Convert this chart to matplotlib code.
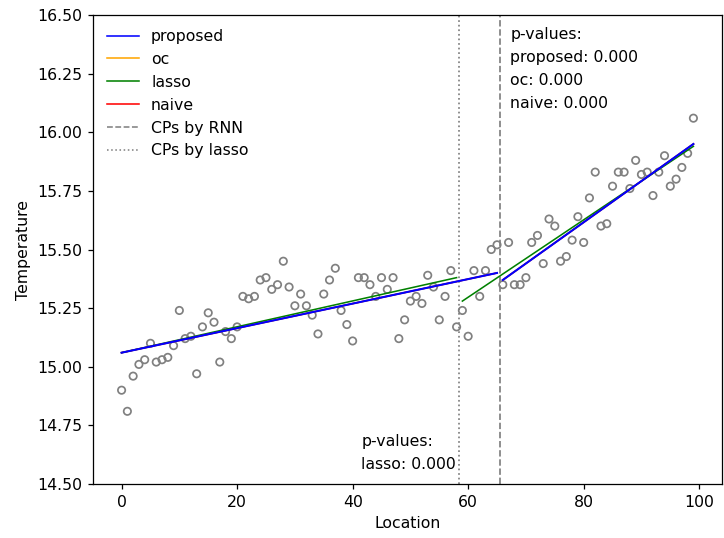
import matplotlib.pyplot as plt
from matplotlib.lines import Line2D
import numpy as np

# Observed temperatures by location
location = np.arange(0, 100)
temperature = [
    14.90, 14.81, 14.96, 15.01, 15.03, 15.10, 15.02, 15.03, 15.04, 15.09,
    15.24, 15.12, 15.13, 14.97, 15.17, 15.23, 15.19, 15.02, 15.15, 15.12,
    15.17, 15.30, 15.29, 15.30, 15.37, 15.38, 15.33, 15.35, 15.45, 15.34,
    15.26, 15.31, 15.26, 15.22, 15.14, 15.31, 15.37, 15.42, 15.24, 15.18,
    15.11, 15.38, 15.38, 15.35, 15.30, 15.38, 15.33, 15.38, 15.12, 15.20,
    15.28, 15.30, 15.27, 15.39, 15.34, 15.20, 15.30, 15.41, 15.17, 15.24,
    15.13, 15.41, 15.30, 15.41, 15.50, 15.52, 15.35, 15.53, 15.35, 15.35,
    15.38, 15.53, 15.56, 15.44, 15.63, 15.60, 15.45, 15.47, 15.54, 15.64,
    15.53, 15.72, 15.83, 15.60, 15.61, 15.77, 15.83, 15.83, 15.76, 15.88,
    15.82, 15.83, 15.73, 15.83, 15.90, 15.77, 15.80, 15.85, 15.91, 16.06,
]

# Fitted segments: (x start, x end, y start, y end)
rnn_segments = [(0, 65, 15.06, 15.40), (66, 99, 15.37, 15.95)]
lasso_segments = [(0, 58, 15.06, 15.38), (59, 99, 15.28, 15.94)]

# Change points
cp_rnn = [65.5]
cp_lasso = [58.5]

dpi = 113
fig, ax = plt.subplots(figsize=(724 / dpi, 538 / dpi), dpi=dpi)
fig.subplots_adjust(left=93/724, right=722/724, top=1-15/538, bottom=1-484/538)

ax.scatter(location, temperature, facecolors='none', edgecolors='grey', s=22, linewidths=1.1)

# draw each method's fit (oc and naive coincide with proposed)
methods = [('oc', 'orange', 1.0, rnn_segments, 2),
           ('lasso', 'green', 1.0, lasso_segments, 3),
           ('naive', 'red', 1.0, rnn_segments, 4),
           ('proposed', 'blue', 1.3, rnn_segments, 5)]
for name, color, lw, segs, z in methods:
    for x0, x1, y0, y1 in segs:
        ax.plot([x0, x1], [y0, y1], color=color, lw=lw, zorder=z)

for cp in cp_rnn:
    ax.axvline(cp, color='grey', linestyle='--', lw=1.1)
for cp in cp_lasso:
    ax.axvline(cp, color='grey', linestyle=':', lw=1.1)

ax.text(cp_rnn[0] + 1.8, 16.45, "p-values:\nproposed: 0.000\noc: 0.000\nnaive: 0.000",
        va='top', ha='left', linespacing=1.67)
ax.text(cp_lasso[0] - 0.6, 14.552, "p-values:\nlasso: 0.000",
        va='bottom', ha='right', multialignment='left', linespacing=1.67)

leg_handles = [Line2D([], [], color='blue', lw=1),
               Line2D([], [], color='orange', lw=1),
               Line2D([], [], color='green', lw=1),
               Line2D([], [], color='red', lw=1),
               Line2D([], [], color='grey', ls='--', lw=1),
               Line2D([], [], color='grey', ls=':', lw=1)]
ax.legend(leg_handles, ['proposed', 'oc', 'lasso', 'naive', 'CPs by RNN', 'CPs by lasso'],
          loc='upper left', frameon=False)

ax.set_ylim(14.5, 16.5)
ax.set_xlabel("Location")
ax.set_ylabel("Temperature")

plt.savefig("out.png")
